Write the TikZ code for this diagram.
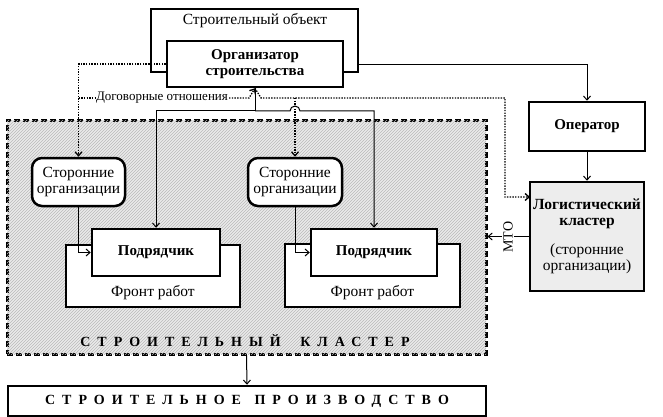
\documentclass[tikz,border=0pt]{standalone}
\usepackage{fontspec}
\setmainfont{Liberation Serif}
\newfontfamily\spacedserif[LetterSpace=50]{Liberation Serif}
\usetikzlibrary{arrows.meta,patterns}
\newcommand\mynf{\fontsize{15.5}{16.5}\selectfont}
\newcommand\mybf{\bfseries\fontsize{15}{16.5}\selectfont}
\newcommand\mysmall{\fontsize{13}{14}\selectfont}
\newcommand\myspaced{\spacedserif\bfseries\fontsize{14}{14}\selectfont}
\begin{document}
\begin{tikzpicture}[x=1pt,y=-1pt,
  thickbox/.style={draw,line width=2.5pt,fill=white,inner sep=0pt,align=center,font=\mynf},
  roundbox/.style={thickbox,rounded corners=10pt},
  clusterbox/.style={draw,line width=3pt,dash pattern=on 6pt off 3pt,fill=gray!16,
     postaction={pattern=north east lines,pattern color=gray!55},inner sep=0pt},
  txt/.style={font=\mynf,inner sep=1pt},
  conn/.style={line width=1pt},
  tip/.style={-{Straight Barb[length=4pt,width=7pt]}},
  arr/.style={conn,tip},
  dotl/.style={line width=1.3pt,dash pattern=on 1.4pt off 1.3pt},
  dotarr/.style={dotl,tip}
]
\useasboundingbox (0,0) rectangle (663,417);
\fill[white] (0,0) rectangle (663,417);

% cluster background
\node[clusterbox,minimum width=479pt,minimum height=234pt] (cl) at (246.5,237) {};

% top objects
\node[thickbox,minimum width=207pt,minimum height=63pt] (obj) at (254.5,40.5) {};
\node[txt] (objt) at (255,21) {Строительный объект};
\node[thickbox,font=\mybf,minimum width=176pt,minimum height=46pt] (org) at (255,64) {Организатор\\строительства};

% right column
\node[thickbox,font=\mybf,minimum width=116pt,minimum height=49pt] (oper) at (587,126.5) {Оператор};
\node[thickbox,fill=gray!14,minimum width=114pt,minimum height=109pt] (log) at (587,236.5)
  {\textbf{Логистический}\\\textbf{кластер}\\[12pt](сторонние\\организации)};

% third parties
\node[roundbox,minimum width=93pt,minimum height=48pt] (sto1) at (78.5,182) {Сторонние\\организации};
\node[roundbox,minimum width=94pt,minimum height=48pt] (sto2) at (295,182) {Сторонние\\организации};

% work fronts and contractors
\node[thickbox,minimum width=174pt,minimum height=62pt] (front1) at (153,276) {};
\node[txt] (ft1) at (153,293) {Фронт работ};
\node[thickbox,font=\mybf,minimum width=128pt,minimum height=47pt] (pod1) at (156,252.5) {Подрядчик};
\node[thickbox,minimum width=175pt,minimum height=63pt] (front2) at (372.5,275.5) {};
\node[txt] (ft2) at (372.5,293) {Фронт работ};
\node[thickbox,font=\mybf,minimum width=126pt,minimum height=47pt] (pod2) at (374,252.5) {Подрядчик};

% cluster label
\node[font=\myspaced,inner sep=0pt] (cllab) at (245,341) {СТРОИТЕЛЬНЫЙ\hspace{9pt} КЛАСТЕР};

% production
\node[thickbox,font=\myspaced,minimum width=478pt,minimum height=30pt] (prod) at (247,401) {СТРОИТЕЛЬНОЕ\hspace{3pt} ПРОИЗВОДСТВО};

% solid connectors
\draw[arr] ([yshift=9pt]obj.south east) -| (oper.north);
\draw[arr] (oper.south) -- (log.north);
\coordinate (split) at (255,111);
\coordinate (hopA) at (290,111);
\draw[arr] (org.south) -- (split) -| (pod1.north);
\draw[arr] (split) -- (hopA) arc(180:0:5pt) -| (pod2.north);
\draw[arr] (sto1.south) |- (pod1.west);
\draw[arr] (sto2.south) |- (pod2.west);
\draw[arr] (cl.south) -- (prod.north);

% MTO
\draw[arr] (log.west) -- (cl.east |- log.west);
\node[font=\fontsize{14}{14}\selectfont,rotate=90,fill=white,inner sep=1.5pt] (mto) at (508,237) {МТО};

% dotted contractual relations
\node[font=\mysmall,inner sep=1pt] (lbl) at (162,98) {Договорные отношения};
\coordinate (tipL) at (249,98);
\coordinate (tipR) at (261,98);
\coordinate (cornR) at (505,98);
\coordinate (login) at (530,197);
\draw[dotarr] (org.west) -| (sto1.north);
\draw[dotl] (sto1.north |- lbl.west) -- (lbl.west);
\draw[dotarr] (lbl.east) -- (tipL) -- (org.south);
\draw[dotarr] (org.south) -- (tipR) -- (cornR) |- (login);
\draw[dotarr] (sto2.north |- lbl.east) -- (sto2.north);
\end{tikzpicture}
\end{document}
